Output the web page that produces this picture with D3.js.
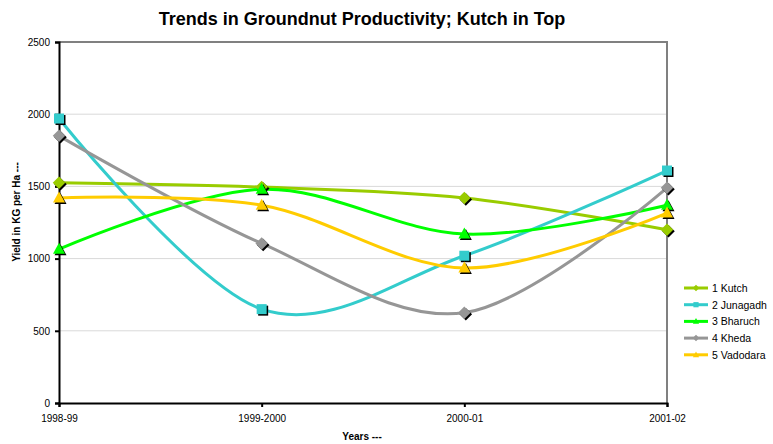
<!DOCTYPE html>
<html>
<head>
<meta charset="utf-8">
<script src="https://cdn.jsdelivr.net/npm/d3@7"></script>
<style>
  body { margin: 0; background: #fff; }
  text { font-family: "Liberation Sans", Arial, sans-serif; }
</style>
</head>
<body>
<div id="chart"></div>
<script>
// Groundnut productivity by district (kg/ha)
const years = ["1998-99", "1999-2000", "2000-01", "2001-02"];
const kutch = [1525, 1495, 1420, 1200];
const junagadh = [1970, 650, 1020, 1610];
const bharuch = [1065, 1480, 1170, 1370];
const kheda = [1850, 1105, 625, 1490];
const vadodara = [1420, 1370, 935, 1315];
const yTicks = [0, 500, 1000, 1500, 2000, 2500];

const series = [
    { name: "1 Kutch", values: kutch, color: "#99cc00", shape: "diamond" },
    { name: "2 Junagadh", values: junagadh, color: "#33cccc", shape: "square" },
    { name: "3 Bharuch", values: bharuch, color: "#00ff00", shape: "triangle" },
    { name: "4 Kheda", values: kheda, color: "#969696", shape: "diamond" },
    { name: "5 Vadodara", values: vadodara, color: "#ffcc00", shape: "triangle" }
];

const width = 773, height = 444;
const margin = { left: 59, right: 106, top: 42, bottom: 41 };

const svg = d3.select("#chart").append("svg")
    .attr("width", width)
    .attr("height", height);

const x = d3.scalePoint().domain(years).range([margin.left, width - margin.right]);
const y = d3.scaleLinear().domain([0, 2500]).range([height - margin.bottom, margin.top]);

// gridlines
svg.append("g")
    .selectAll("line")
    .data(yTicks.filter(d => d > 0 && d < 2500))
    .join("line")
    .attr("x1", margin.left).attr("x2", width - margin.right)
    .attr("y1", d => y(d)).attr("y2", d => y(d))
    .attr("stroke", "#d9d9d9").attr("stroke-width", 1);

// plot frame (top/right gray)
svg.append("path")
    .attr("d", `M${margin.left},${y(2500)}H${width - margin.right}V${y(0)}`)
    .attr("fill", "none").attr("stroke", "#808080").attr("stroke-width", 2);

// axes
const yAxis = svg.append("g")
    .attr("transform", `translate(${margin.left},0)`)
    .call(d3.axisLeft(y).tickValues(yTicks).tickFormat(d3.format("d")).tickSize(4).tickPadding(5));
const xAxis = svg.append("g")
    .attr("transform", `translate(0,${y(0)})`)
    .call(d3.axisBottom(x).tickSize(4).tickPadding(8));

[yAxis, xAxis].forEach(g => {
    g.select(".domain").attr("stroke", "#000").attr("stroke-width", 2);
    g.selectAll(".tick line").attr("stroke", "#000").attr("stroke-width", 2);
    g.selectAll(".tick text").attr("fill", "#000")
        .style("font-family", "'Liberation Sans', Arial, sans-serif")
        .style("font-size", "10px");
});

// smoothed lines like Excel
const line = d3.line()
    .x((d, i) => x(years[i]))
    .y(d => y(d))
    .curve(d3.curveCardinal.tension(0));

svg.append("g")
    .selectAll("path")
    .data(series)
    .join("path")
    .attr("fill", "none")
    .attr("stroke", d => d.color)
    .attr("stroke-width", 3)
    .attr("d", d => line(d.values));

function markerPath(shape, s) {
    if (shape === "square") return `M${-s},${-s}H${s}V${s}H${-s}Z`;
    if (shape === "diamond") return `M0,${-s * 1.25}L${s * 1.25},0L0,${s * 1.25}L${-s * 1.25},0Z`;
    return `M0,${-s * 1.3}L${s * 1.2},${s * 0.9}H${-s * 1.2}Z`;
}

// markers with dark shadow
series.forEach(s => {
    const g = svg.append("g");
    s.values.forEach((v, i) => {
        g.append("path")
            .attr("d", markerPath(s.shape, 5))
            .attr("transform", `translate(${x(years[i]) + 1.5},${y(v) + 1.5})`)
            .attr("fill", "#000");
        g.append("path")
            .attr("d", markerPath(s.shape, 5))
            .attr("transform", `translate(${x(years[i])},${y(v)})`)
            .attr("fill", s.color);
    });
});

// legend
const legend = svg.append("g");
series.forEach((s, i) => {
    const ly = 288 + i * 16.7;
    legend.append("line")
        .attr("x1", 684).attr("x2", 708)
        .attr("y1", ly).attr("y2", ly)
        .attr("stroke", s.color).attr("stroke-width", 3);
    legend.append("path")
        .attr("d", markerPath(s.shape, 2.6))
        .attr("transform", `translate(696,${ly})`)
        .attr("fill", s.color);
    legend.append("text")
        .attr("x", 712).attr("y", ly + 4)
        .style("font-size", "10.5px")
        .text(s.name);
});

// titles
svg.append("text")
    .attr("x", 362).attr("y", 25)
    .attr("text-anchor", "middle")
    .style("font-size", "18px").style("font-weight", "bold")
    .text("Trends in Groundnut Productivity; Kutch in Top");

svg.append("text")
    .attr("x", 362).attr("y", 440)
    .attr("text-anchor", "middle")
    .style("font-size", "10px").style("font-weight", "bold")
    .text("Years ---");

svg.append("text")
    .attr("transform", "translate(20,212) rotate(-90)")
    .attr("text-anchor", "middle")
    .style("font-size", "10px").style("font-weight", "bold")
    .text("Yield in KG per Ha ---");
</script>
</body>
</html>
